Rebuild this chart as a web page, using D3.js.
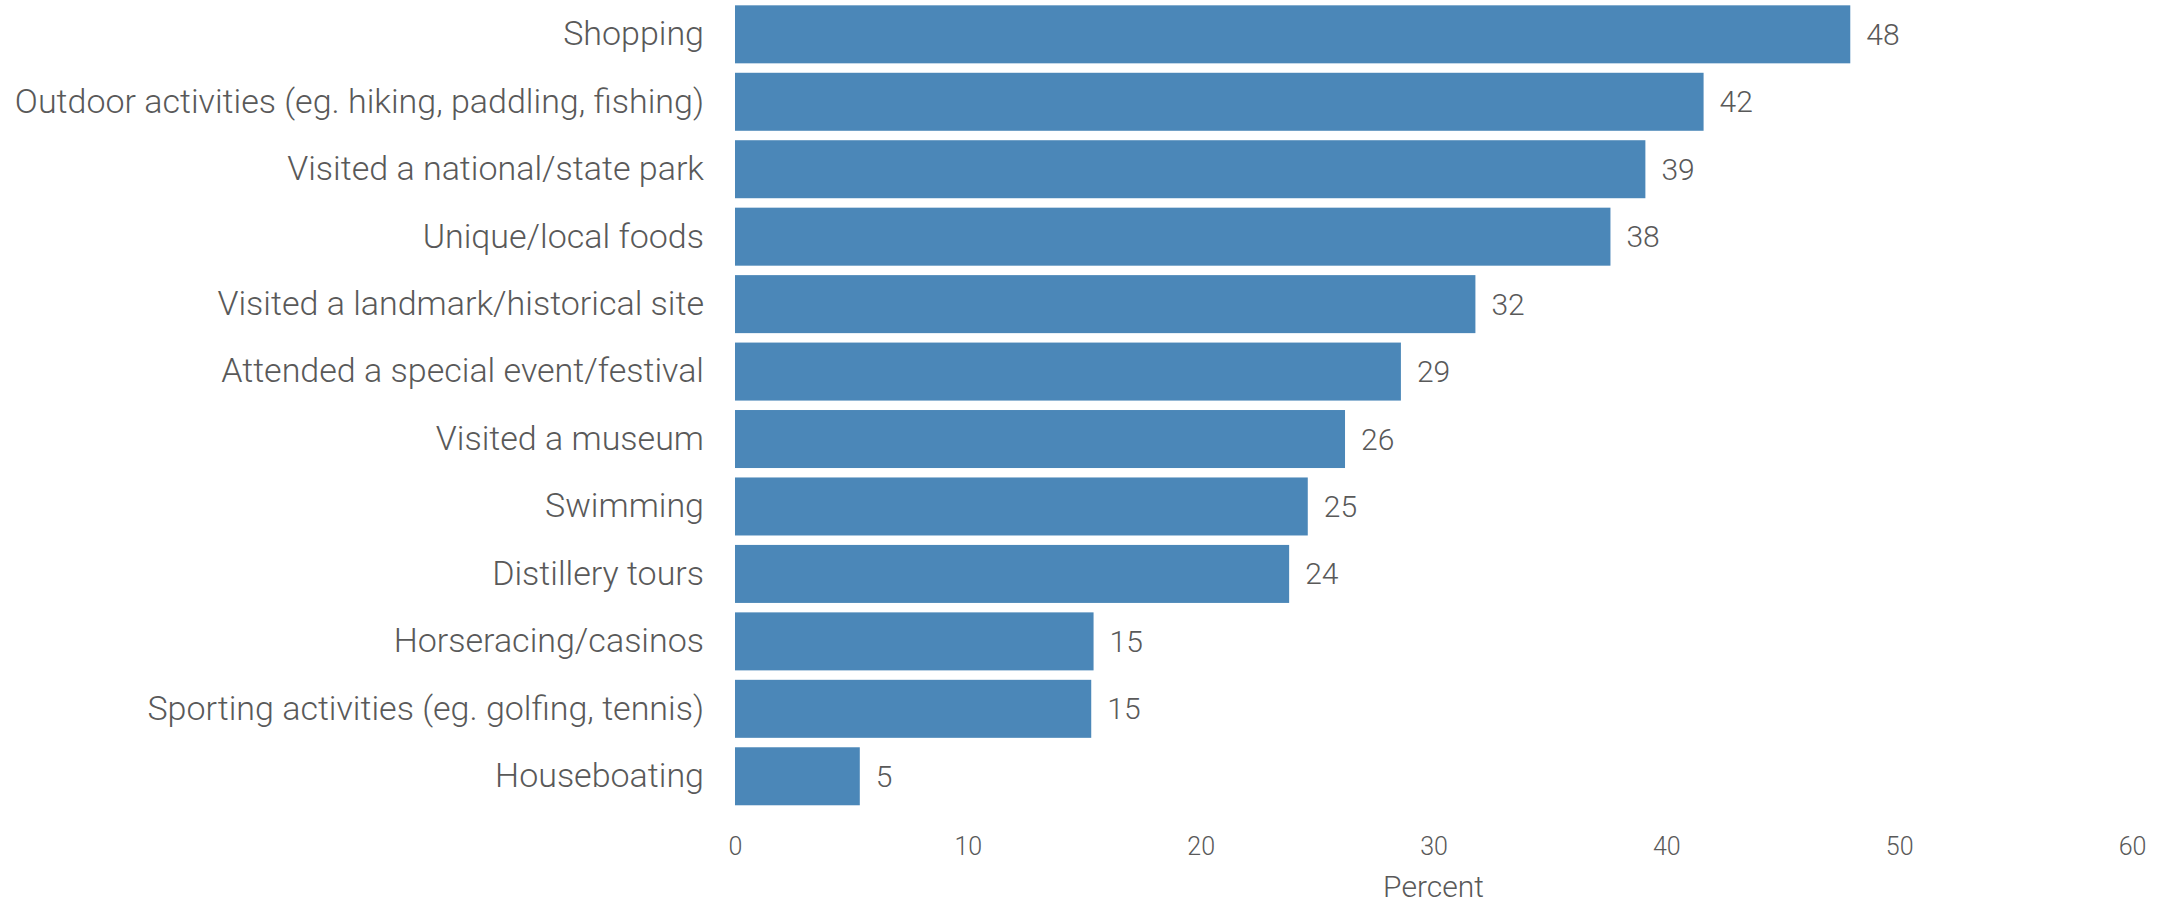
<!DOCTYPE html>
<html>
<head>
<meta charset="utf-8">
<script src="https://cdn.jsdelivr.net/npm/d3@7"></script>
<style>
  html, body { margin: 0; padding: 0; background: #ffffff; }
  svg { display: block; }
  text { font-family: Roboto, "Noto Sans", sans-serif; fill: #595959; }
</style>
</head>
<body>
<svg id="chart" width="2167" height="906"></svg>
<script>
// Share of visitors taking part in each activity (percent)
const categories = [
  "Shopping",
  "Outdoor activities (eg. hiking, paddling, fishing)",
  "Visited a national/state park",
  "Unique/local foods",
  "Visited a landmark/historical site",
  "Attended a special event/festival",
  "Visited a museum",
  "Swimming",
  "Distillery tours",
  "Horseracing/casinos",
  "Sporting activities (eg. golfing, tennis)",
  "Houseboating"
];
const values = [47.9, 41.6, 39.1, 37.6, 31.8, 28.6, 26.2, 24.6, 23.8, 15.4, 15.3, 5.36];
const xTicks = [0, 10, 20, 30, 40, 50, 60];
const xTitle = "Percent";

const svg = d3.select("#chart");

const x = d3.scaleLinear().domain([0, 60]).range([735, 2132]);
const y = d3.scaleBand()
  .domain(categories)
  .range([0.6, 810])
  .paddingInner(0.14)
  .paddingOuter(0.07);

// bars
svg.append("g")
  .selectAll("rect")
  .data(categories)
  .join("rect")
  .attr("x", x(0))
  .attr("y", d => y(d))
  .attr("width", (d, i) => x(values[i]) - x(0))
  .attr("height", y.bandwidth())
  .attr("fill", "#4b87b8");

// value labels
svg.append("g")
  .selectAll("text")
  .data(categories)
  .join("text")
  .attr("x", (d, i) => x(values[i]) + 16)
  .attr("y", d => y(d) + y.bandwidth() / 2)
  .attr("dy", "0.35em")
  .style("font-size", "30px")
  .style("font-weight", 300)
  .text((d, i) => d3.format(".0f")(values[i]));

// category axis (labels only)
const yAxis = svg.append("g")
  .attr("transform", `translate(${x(0) - 31},0)`)
  .call(d3.axisLeft(y).tickSize(0).tickPadding(0));
yAxis.select(".domain").remove();
yAxis.selectAll("text")
  .attr("fill", null)
  .style("font-size", "34px")
  .style("font-weight", 300);

// value axis (labels only)
const xAxis = svg.append("g")
  .attr("transform", "translate(0,846)")
  .call(d3.axisBottom(x).tickValues(xTicks).tickSize(0).tickPadding(0));
xAxis.select(".domain").remove();
xAxis.selectAll("text")
  .attr("fill", null)
  .attr("dy", "0.35em")
  .style("font-size", "25px")
  .style("font-weight", 300);

svg.append("text")
  .attr("x", (x(0) + x(60)) / 2)
  .attr("y", 886)
  .attr("dy", "0.35em")
  .attr("text-anchor", "middle")
  .style("font-size", "30px")
  .style("font-weight", 300)
  .text(xTitle);
</script>
</body>
</html>
